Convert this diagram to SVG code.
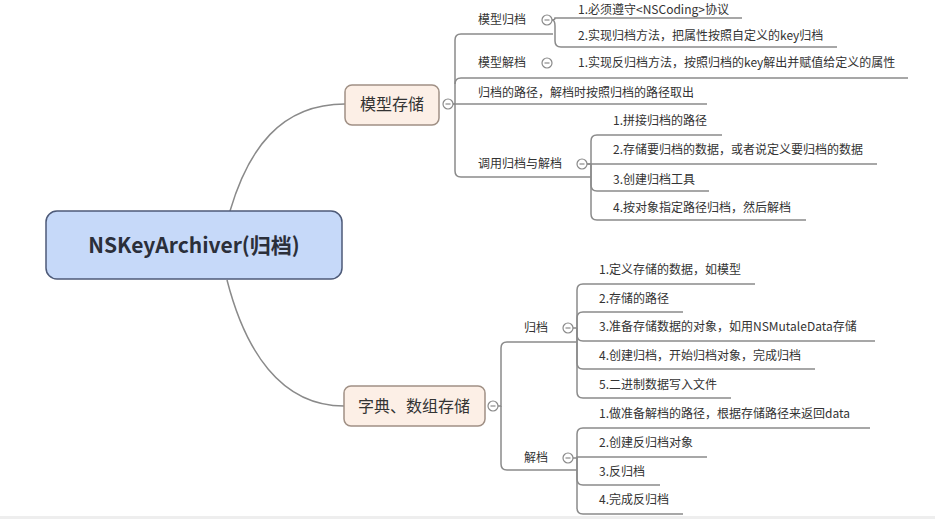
<svg xmlns="http://www.w3.org/2000/svg" width="935" height="519" viewBox="0 0 935 519">
<style>
.c{fill:none;stroke:#8a8a8a;stroke-width:1.5}
.t{font-family:"Noto Sans CJK SC","Noto Sans",sans-serif;font-size:12px;fill:#333}
.bt{font-family:"Noto Sans CJK SC","Noto Sans",sans-serif;font-size:16px;fill:#333;text-anchor:middle}
.br{fill:#fcefe6;stroke:#a09085;stroke-width:1.5}
.btn{fill:#fff;stroke:#8a8a8a;stroke-width:1.2}
.mn{stroke:#8a8a8a;stroke-width:1.2}
</style>
<rect width="935" height="519" fill="#fff"/>
<g id="connectors">
<path class="c" d="M230,211 C248,150 280,104 345,104"/>
<path class="c" d="M227,280 C245,350 280,406 344,406"/>
<path class="c" d="M453,104 H455 V40 Q455,34 461,34 H553"/>
<path class="c" d="M455,84 Q455,78 461,78 H908"/>
<path class="c" d="M453,104 H707"/>
<path class="c" d="M455,104 V171 Q455,177 461,177 H591"/>
<path class="c" d="M552,20 Q555,20 555,18 H742"/>
<path class="c" d="M552,20 Q555,20 555,26 V41 Q555,47 561,47 H837"/>
<path class="c" d="M587,164 H591 V141 Q591,135 597,135 H722"/>
<path class="c" d="M587,164 H877"/>
<path class="c" d="M591,164 V185 Q591,191 597,191 H709"/>
<path class="c" d="M591,164 V214 Q591,220 597,220 H806"/>
<path class="c" d="M498,406 H501 V348 Q501,342 507,342 H577"/>
<path class="c" d="M501,406 V464 Q501,470 507,470 H577"/>
<path class="c" d="M573,328 H577 V290 Q577,284 583,284 H755"/>
<path class="c" d="M577,328 V318 Q577,312 583,312 H683"/>
<path class="c" d="M577,328 V335 Q577,341 583,341 H875"/>
<path class="c" d="M577,328 V363 Q577,369 583,369 H815"/>
<path class="c" d="M577,328 V392 Q577,398 583,398 H731"/>
<path class="c" d="M573,458 H577 V434 Q577,428 583,428 H870"/>
<path class="c" d="M577,458 V457 H707"/>
<path class="c" d="M577,458 V479 Q577,485 583,485 H660"/>
<path class="c" d="M577,458 V508 Q577,514 583,514 H683"/>
</g>
<g id="root">
<rect x="46" y="211" width="296" height="68" rx="11" fill="#c6d9f9" stroke="#4d5a78" stroke-width="1.5"/>
<text x="194" y="253" font-family="'Noto Sans CJK SC','Noto Sans',sans-serif" font-size="21" font-weight="bold" fill="#2b2f3a" text-anchor="middle">NSKeyArchiver(归档)</text>
</g>
<g id="n-model">
<rect class="br" x="345" y="85" width="94" height="40" rx="7"/>
<text class="bt" x="392" y="110">模型存储</text>
<circle class="btn" cx="448" cy="104" r="5"/><line class="mn" x1="445.5" y1="104" x2="450.5" y2="104"/>
</g>
<g id="n-archive1">
<text class="t" x="478" y="24">模型归档</text>
<circle class="btn" cx="547" cy="20" r="5"/><line class="mn" x1="544.5" y1="20" x2="549.5" y2="20"/>
</g>
<g id="n-a1-1"><text class="t" x="578" y="14">1.必须遵守&lt;NSCoding&gt;协议</text></g>
<g id="n-a1-2"><text class="t" x="578" y="40">2.实现归档方法，把属性按照自定义的key归档</text></g>
<g id="n-unarchive1">
<text class="t" x="478" y="67">模型解档</text>
<circle class="btn" cx="547" cy="63" r="5"/><line class="mn" x1="544.5" y1="63" x2="549.5" y2="63"/>
</g>
<g id="n-u1-1"><text class="t" x="578" y="67">1.实现反归档方法，按照归档的key解出并赋值给定义的属性</text></g>
<g id="n-path"><text class="t" x="478" y="97">归档的路径，解档时按照归档的路径取出</text></g>
<g id="n-call">
<text class="t" x="478" y="168">调用归档与解档</text>
<circle class="btn" cx="582" cy="164" r="5"/><line class="mn" x1="579.5" y1="164" x2="584.5" y2="164"/>
</g>
<g id="n-c1"><text class="t" x="613" y="125">1.拼接归档的路径</text></g>
<g id="n-c2"><text class="t" x="613" y="154">2.存储要归档的数据，或者说定义要归档的数据</text></g>
<g id="n-c3"><text class="t" x="613" y="184">3.创建归档工具</text></g>
<g id="n-c4"><text class="t" x="613" y="212">4.按对象指定路径归档，然后解档</text></g>
<g id="n-dict">
<rect class="br" x="344" y="386" width="141" height="40" rx="7"/>
<text class="bt" x="414" y="412">字典、数组存储</text>
<circle class="btn" cx="493" cy="406" r="5"/><line class="mn" x1="490.5" y1="406" x2="495.5" y2="406"/>
</g>
<g id="n-archive2">
<text class="t" x="524" y="332">归档</text>
<circle class="btn" cx="568" cy="328" r="5"/><line class="mn" x1="565.5" y1="328" x2="570.5" y2="328"/>
</g>
<g id="n-a2-1"><text class="t" x="599" y="274">1.定义存储的数据，如模型</text></g>
<g id="n-a2-2"><text class="t" x="599" y="303">2.存储的路径</text></g>
<g id="n-a2-3"><text class="t" x="599" y="331">3.准备存储数据的对象，如用NSMutaleData存储</text></g>
<g id="n-a2-4"><text class="t" x="599" y="360">4.创建归档，开始归档对象，完成归档</text></g>
<g id="n-a2-5"><text class="t" x="599" y="389">5.二进制数据写入文件</text></g>
<g id="n-unarchive2">
<text class="t" x="524" y="462">解档</text>
<circle class="btn" cx="568" cy="458" r="5"/><line class="mn" x1="565.5" y1="458" x2="570.5" y2="458"/>
</g>
<g id="n-u2-1"><text class="t" x="599" y="418">1.做准备解档的路径，根据存储路径来返回data</text></g>
<g id="n-u2-2"><text class="t" x="599" y="447">2.创建反归档对象</text></g>
<g id="n-u2-3"><text class="t" x="599" y="476">3.反归档</text></g>
<g id="n-u2-4"><text class="t" x="599" y="504">4.完成反归档</text></g>
<rect x="0" y="516" width="935" height="3" fill="#eeeeee"/>
</svg>
